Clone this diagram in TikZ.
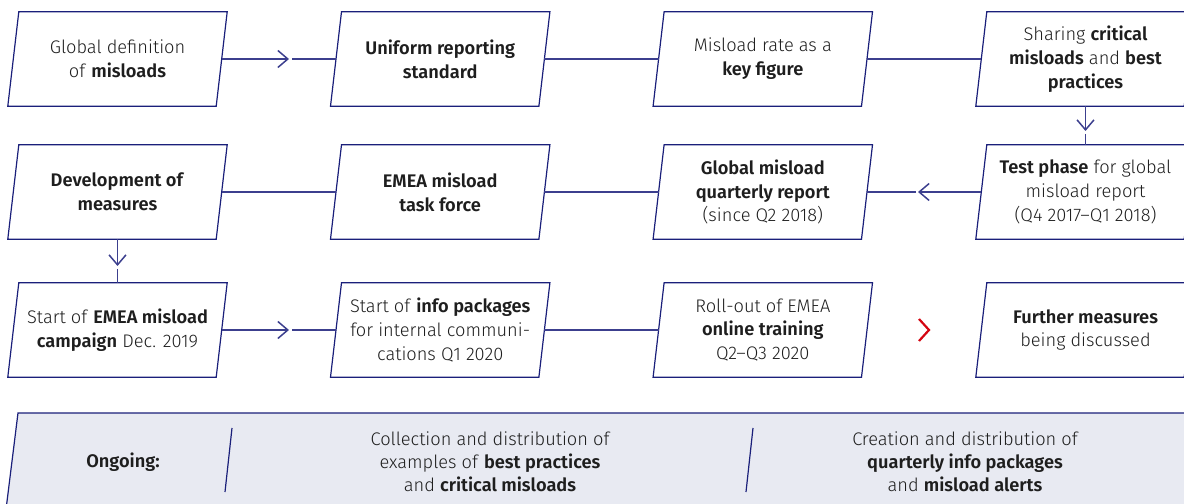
\documentclass[tikz,border=0pt]{standalone}
\usepackage{fontspec}
\setmainfont{Fira Sans}[UprightFont={* Light},BoldFont={* SemiBold}]
\usetikzlibrary{arrows.meta}
\definecolor{navy}{HTML}{1A1F7A}
\definecolor{connc}{HTML}{3C3F8E}
\definecolor{txt}{HTML}{1E1E1E}
\definecolor{dhlred}{HTML}{D40511}
\definecolor{band}{HTML}{E8EAF2}
\begin{document}
\begin{tikzpicture}[x=1bp,y=-1bp,
  pbox/.style={minimum width=208bp,minimum height=94bp,inner sep=0pt,align=center,text=txt,font=\fontsize{18.3}{24}\selectfont},
  btext/.style={inner sep=0pt,align=center,text=txt,font=\fontsize{18.3}{23}\selectfont},
  pline/.style={draw=navy,line width=1.2bp,line join=miter},
  conn/.style={draw=connc,line width=1.5bp},
  chev/.style={-{Straight Barb[length=10bp,width=17bp]}},
  redchev/.style={draw=dhlred,line width=2.2bp},
  divider/.style={draw=navy,line width=1.2bp}]
\useasboundingbox (0,0) rectangle (1184,504);
\clip (0,0) rectangle (1184,504);
% bottom band
\fill[band] (18,413) -- (1200,413) -- (1200,520) -- (4.7,520) -- cycle;
\draw[pline] (4.7,520) -- (18,413) -- (1200,413);
\coordinate (d1t) at (232,428);
\coordinate (d1b) at (225,492);
\coordinate (d2t) at (753,428);
\coordinate (d2b) at (746,492);
\draw[divider] (d1t) -- (d1b);
\draw[divider] (d2t) -- (d2b);
\node[btext] (on1) at (123,462) {\textbf{Ongoing:}};
\node[btext] (on2) at (490,462) {Collection and distribution of\\examples of \textbf{best practices}\\and \textbf{critical misloads}};
\node[btext] (on3) at (965,462) {Creation and distribution of\\\textbf{quarterly info packages}\\and \textbf{misload alerts}};
% boxes
\node[pbox] (A1) at (117.5,59) {Global definition\\of \textbf{misloads}};
\node[pbox] (A2) at (440.2,59) {\textbf{Uniform reporting}\\\textbf{standard}};
\node[pbox] (A3) at (762.8,59) {Misload rate as a\\\textbf{key figure}};
\node[pbox] (A4) at (1085.5,59) {Sharing \textbf{critical}\\\textbf{misloads} and \textbf{best}\\\textbf{practices}};
\node[pbox] (B1) at (117.5,192) {\textbf{Development of}\\\textbf{measures}};
\node[pbox] (B2) at (440.2,192) {\textbf{EMEA misload}\\\textbf{task force}};
\node[pbox] (B3) at (762.8,192) {\textbf{Global misload}\\\textbf{quarterly report}\\(since Q2 2018)};
\node[pbox] (B4) at (1085.5,192) {\textbf{Test phase} for global\\misload report\\(Q4 2017–Q1 2018)};
\node[pbox] (C1) at (117.5,330) {Start of \textbf{EMEA misload}\\\textbf{campaign} Dec. 2019};
\node[pbox] (C2) at (440.2,330) {Start of \textbf{info packages}\\for internal communi-\\cations Q1 2020};
\node[pbox] (C3) at (762.8,330) {Roll-out of EMEA\\\textbf{online training}\\Q2–Q3 2020};
\node[pbox] (C4) at (1085.5,330) {\textbf{Further measures}\\being discussed};
\foreach \n in {A1,A2,A3,A4,B1,B2,B3,B4,C1,C2,C3,C4}
  \draw[pline] ([xshift=5.5bp]\n.north west) -- ([xshift=5.5bp]\n.north east) -- ([xshift=-5.5bp]\n.south east) -- ([xshift=-5.5bp]\n.south west) -- cycle;
% connectors
\coordinate (t1) at (289,59);
\draw[conn,chev] (A1.east) -- (t1);
\draw[conn] ([xshift=3bp]t1) -- (A2.west);
\draw[conn] (A2.east) -- (A3.west);
\draw[conn] (A3.east) -- (A4.west);
\coordinate (t2) at (1085.5,131);
\draw[conn,chev] (A4.south) -- (t2);
\draw[conn] ([yshift=-3bp]t2) -- (B4.north);
\coordinate (t3) at (918,192);
\draw[conn,chev] (B4.west) -- (t3);
\draw[conn] ([xshift=-2bp]t3) -- (B3.east);
\draw[conn] (B3.west) -- (B2.east);
\draw[conn] (B2.west) -- (B1.east);
\coordinate (t4) at (117.5,266);
\draw[conn,chev] (B1.south) -- (t4);
\draw[conn] ([yshift=-3bp]t4) -- (C1.north);
\coordinate (t5) at (289,330);
\draw[conn,chev] (C1.east) -- (t5);
\draw[conn] ([xshift=3bp]t5) -- (C2.west);
\draw[conn] (C2.east) -- (C3.west);
\coordinate (r1) at (919,319);
\coordinate (r2) at (929,330);
\coordinate (r3) at (919,341);
\draw[redchev] (r1) -- (r2) -- (r3);
\end{tikzpicture}
\end{document}
